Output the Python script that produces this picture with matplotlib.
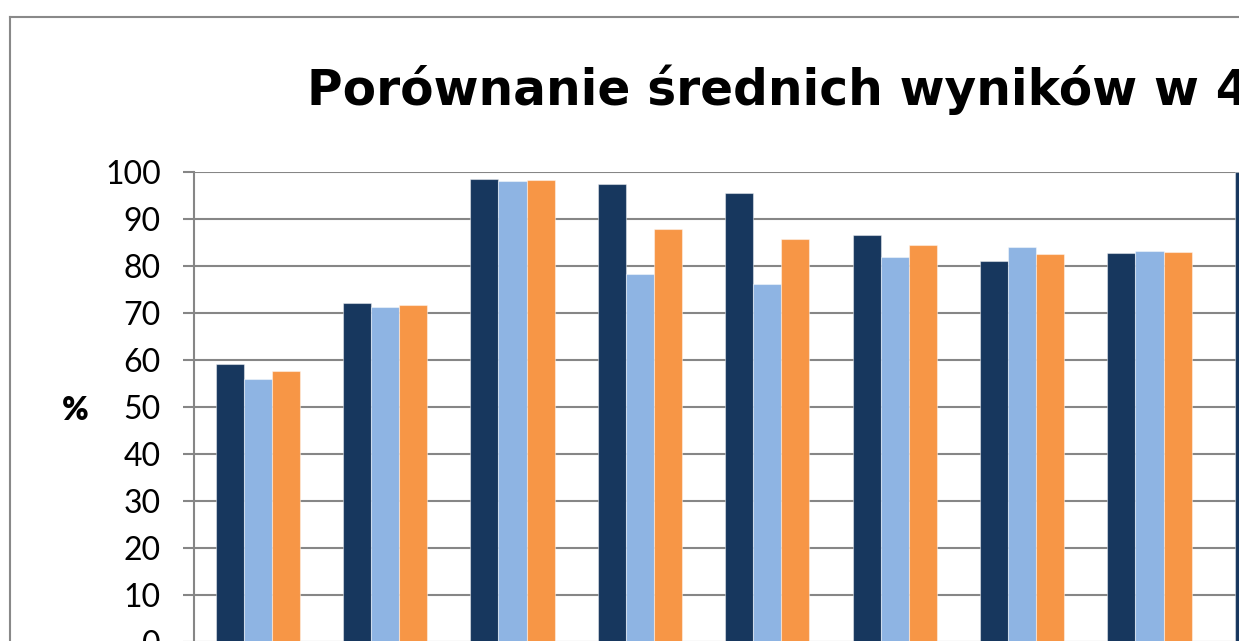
import numpy as np
import matplotlib.pyplot as plt
from matplotlib.lines import Line2D
from matplotlib.patches import Rectangle

# data (group 9 only partly visible)
groups = [1, 2, 3, 4, 5, 6, 7, 8, 9]
series_dark = [59.1, 72.1, 98.5, 97.4, 95.5, 86.7, 81.1, 82.7, 100.0]
series_light = [56.0, 71.3, 98.1, 78.3, 76.2, 82.0, 84.1, 83.1, np.nan]
series_orange = [57.7, 71.7, 98.3, 87.8, 85.8, 84.4, 82.6, 82.9, np.nan]
yticks = list(range(0, 101, 10))
title = 'Porównanie średnich wyników w 4'

W, H = 1244, 641
fig = plt.figure(figsize=(W / 100, H / 100), dpi=100)
fig.patch.set_facecolor('white')

# plot area runs past the bottom / right edges (image is a crop)
group_px = 127.4
ax = fig.add_axes([194 / W, -1 / H, group_px * len(groups) / W, 470 / H])

x = np.arange(len(groups))
bw = 0.22
colors = ['#17375E', '#8EB4E3', '#F79646']
for i, (vals, c) in enumerate(zip([series_dark, series_light, series_orange], colors)):
    ax.bar(x + (i - 1) * bw, vals, width=bw, color=c,
           edgecolor=(1, 1, 1, 0.45), linewidth=0.8, zorder=3)

ax.set_xlim(-0.5, len(groups) - 0.5)
ax.set_ylim(0, 100)
ax.set_yticks(yticks)
ax.set_xticks([])
ax.yaxis.grid(True, color='#868686', linewidth=1.5, zorder=0)
for s in ['top', 'right', 'bottom']:
    ax.spines[s].set_visible(False)
ax.spines['left'].set_color('#868686')
ax.spines['left'].set_linewidth(1.5)
ax.spines['left'].set_zorder(4)
ax.tick_params(axis='y', length=8, width=1.5, color='#868686', pad=16,
               labelsize=23)
for lab in ax.get_yticklabels():
    lab.set_fontfamily('Lato')

ax.set_ylabel('%', rotation=0, fontsize=23, fontweight='heavy', family='Lato',
              va='center', ha='center')
ax.yaxis.set_label_coords(-119 / (group_px * len(groups)), 232 / 470)

fig.text(307 / W, 1 - 105 / H, title, fontsize=35, fontweight='bold',
         family='DejaVu Sans', ha='left', va='baseline')

# outer chart border
bc = '#898989'
fig.add_artist(Line2D([10 / W, 1239 / W], [1 - 17 / H, 1 - 17 / H],
                      transform=fig.transFigure, color=bc, lw=1.5))
fig.add_artist(Line2D([10 / W, 10 / W], [1 - 17 / H, 0],
                      transform=fig.transFigure, color=bc, lw=1.5))
# white margin at the right where the crop ends
fig.add_artist(Rectangle((1239 / W, 0), 5 / W, 1, transform=fig.transFigure,
                         facecolor='white', edgecolor='none', zorder=10))

fig.savefig('out.png', dpi=100)
